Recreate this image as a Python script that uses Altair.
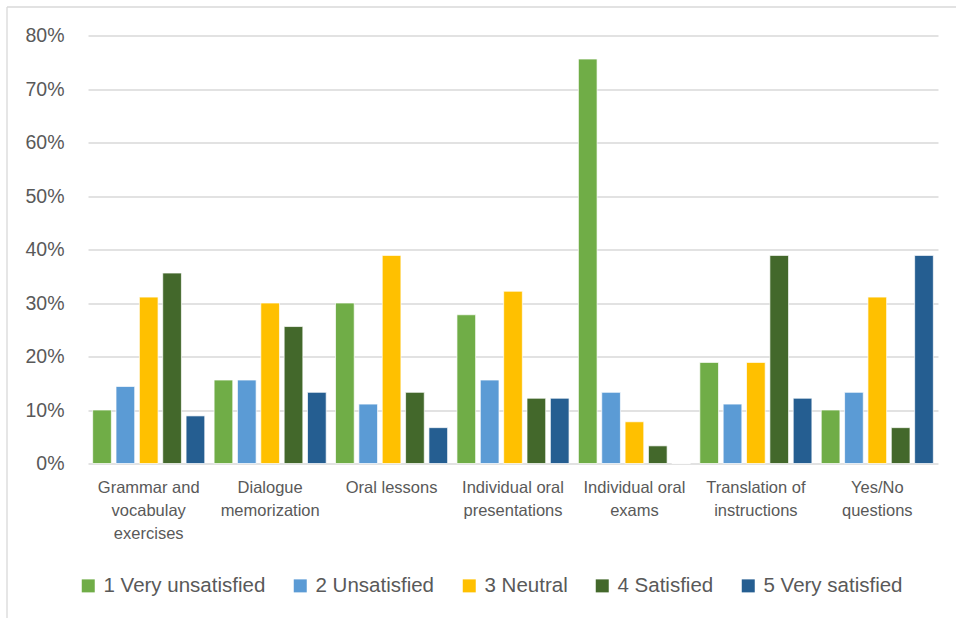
import json
import altair as alt
import pandas as pd

categories = [
    "Grammar and vocabulay exercises",
    "Dialogue memorization",
    "Oral lessons",
    "Individual oral presentations",
    "Individual oral exams",
    "Translation of instructions",
    "Yes/No questions",
]
label_lines = [
    ["Grammar and", "vocabulay", "exercises"],
    ["Dialogue", "memorization"],
    ["Oral lessons"],
    ["Individual oral", "presentations"],
    ["Individual oral", "exams"],
    ["Translation of", "instructions"],
    ["Yes/No", "questions"],
]
series = ["1 Very unsatisfied", "2 Unsatisfied", "3 Neutral", "4 Satisfied", "5 Very satisfied"]
colors = ["#70AD47", "#5B9BD5", "#FFC000", "#43682B", "#255E91"]

very_unsatisfied = [10.0, 15.6, 30.0, 27.8, 75.6, 18.9, 10.0]
unsatisfied = [14.4, 15.6, 11.1, 15.6, 13.3, 11.1, 13.3]
neutral = [31.1, 30.0, 38.9, 32.2, 7.8, 18.9, 31.1]
satisfied = [35.6, 25.6, 13.3, 12.2, 3.3, 38.9, 6.7]
very_satisfied = [8.9, 13.3, 6.7, 12.2, 0.0, 12.2, 38.9]

values = [very_unsatisfied, unsatisfied, neutral, satisfied, very_satisfied]
rows = []
for s, vals in zip(series, values):
    for c, v in zip(categories, vals):
        rows.append({"category": c, "series": s, "value": v / 100})
df = pd.DataFrame(rows)

label_map = json.dumps(dict(zip(categories, label_lines)))

FONT = "Liberation Sans, Arial, sans-serif"
TXT = "#595959"
GRID = "#D9D9D9"

bars = alt.Chart(df).mark_bar(stroke="white", strokeWidth=0.7).encode(
    x=alt.X(
        "category:N",
        sort=categories,
        scale=alt.Scale(paddingInner=0, paddingOuter=0),
        axis=alt.Axis(
            title=None,
            labelAngle=0,
            labelExpr=label_map + "[datum.value]",
            labelFont=FONT,
            labelFontSize=16.5,
            labelColor=TXT,
            labelLineHeight=23,
            labelPadding=16,
            labelLimit=0,
            ticks=False,
            domain=False,
            labelBaseline="top",
        ),
    ),
    xOffset=alt.XOffset("series:N", sort=series, scale=alt.Scale(paddingInner=0.2, paddingOuter=0.2)),
    y=alt.Y(
        "value:Q",
        scale=alt.Scale(domain=[0, 0.8], nice=False),
        axis=alt.Axis(
            title=None,
            values=[0, 0.1, 0.2, 0.3, 0.4, 0.5, 0.6, 0.7, 0.8],
            format=".0%",
            labelFont=FONT,
            labelFontSize=19.5,
            labelColor=TXT,
            labelPadding=24,
            ticks=False,
            domain=False,
            grid=True,
            gridColor=GRID,
            gridWidth=1.3,
        ),
    ),
    color=alt.Color(
        "series:N",
        sort=series,
        scale=alt.Scale(domain=series, range=colors),
        legend=alt.Legend(
            title=None,
            orient="none",
            direction="horizontal",
            legendX=-10,
            legendY=540,
            symbolType="square",
            symbolSize=169,
            symbolStrokeWidth=0,
            labelFont=FONT,
            labelFontSize=20.5,
            labelColor=TXT,
            labelOffset=5,
            columnPadding=24,
            labelLimit=0,
        ),
    ),
)

frame_df = pd.DataFrame({"k": [0]})
frame_left = alt.Chart(frame_df).mark_rule(color=GRID, strokeWidth=1.3).encode(
    x=alt.value(-81), y=alt.value(-28.5), y2=alt.value(600)
)
frame_top = alt.Chart(frame_df).mark_rule(color=GRID, strokeWidth=1.3).encode(
    x=alt.value(-81), x2=alt.value(900), y=alt.value(-28.5)
)

chart = (
    alt.layer(frame_left, frame_top, bars)
    .properties(
        width=850,
        height=428,
        autosize="none",
        padding={"left": 88, "top": 35.5, "right": 18, "bottom": 154.5},
        background="white",
    )
    .configure_view(stroke=None)
)

chart.save("out.html", embed_options={"renderer": "svg", "actions": False})
